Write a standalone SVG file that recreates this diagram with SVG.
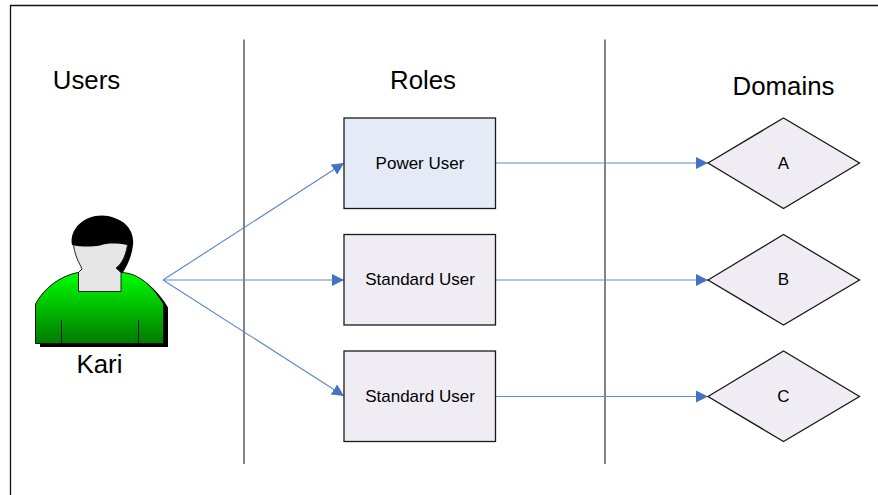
<svg xmlns="http://www.w3.org/2000/svg" width="878" height="495" viewBox="0 0 878 495">
<style>
text{font-family:"Liberation Sans",Arial,sans-serif;fill:#000;text-anchor:middle}
.h{font-size:25.8px}.s{font-size:17px}
.box{stroke:#1a1a1a;stroke-width:1.3}
.c{stroke:#5f8bc8;stroke-width:1.2;fill:none;marker-end:url(#a)}
.d{stroke:#333;stroke-width:1.2}
</style>
<defs>
<marker id="a" markerUnits="userSpaceOnUse" markerWidth="13" markerHeight="12" refX="12" refY="6" orient="auto"><path d="M0 0L12 6L0 12Z" fill="#4472c4"/></marker>
<linearGradient id="g" x1="0" y1="0" x2="0" y2="1"><stop offset="0" stop-color="#00ff00"/><stop offset="1" stop-color="#007a00"/></linearGradient>
<path id="body" d="M35.500 343.500V304C44 288 60 276 78 272.500H121C140 273 154 288 163.500 304V343.500Z"/>
</defs>
<rect width="878" height="495" fill="#fff"/>
<path d="M10.500 495V5.500H878" fill="none" stroke="#111" stroke-width="1.300"/>
<g id="dividers"><path class="d" d="M244 39.500V464M605 39.500V464" fill="none"/></g>
<g id="heading-users"><text class="h" x="86.500" y="89">Users</text></g>
<g id="heading-roles"><text class="h" x="423" y="89">Roles</text></g>
<g id="heading-domains"><text class="h" x="783.500" y="95">Domains</text></g>
<g id="connectors">
<path class="c" d="M163 280L344 163"/>
<path class="c" d="M163 280H344"/>
<path class="c" d="M163 280L344 396"/>
<path class="c" d="M496 163H708"/>
<path class="c" d="M496 280H708"/>
<path class="c" d="M496 396.500H708"/>
</g>
<g id="user-kari">
<use href="#body" transform="translate(4.500 3.500)" fill="#000"/>
<path d="M100 218C120 214 135 228 133 245C132 256 127 266 122 274H100Z" fill="#000"/>
<use href="#body" fill="url(#g)" stroke="#111" stroke-width="1"/>
<path d="M61.500 320V343.500M138.500 320V343.500" stroke="#111" stroke-width="1" fill="none"/>
<path d="M73 240C74 256 80 264 82 269L78.500 272.500V291.500H121V272.500L116 268C122 264 127 254 128 240Z" fill="#e6e6e6" stroke="#222" stroke-width="1"/>
<path d="M72 245C69 229 84 215.500 102 215.500C119 215.500 132 228 127.500 245C115 243 108 243 100 245.500C90 247 82 247 72 245Z" fill="#000"/>
<text class="h" x="99.500" y="373">Kari</text>
</g>
<g id="role-power"><rect class="box" x="344" y="118" width="151.500" height="90.500" fill="#e4ebf6"/><text class="s" x="420" y="168.500">Power User</text></g>
<g id="role-standard-1"><rect class="box" x="344" y="234.500" width="151.500" height="90.500" fill="#efedf3"/><text class="s" x="420" y="285">Standard User</text></g>
<g id="role-standard-2"><rect class="box" x="344" y="351" width="151.500" height="90.500" fill="#efedf3"/><text class="s" x="420" y="401.500">Standard User</text></g>
<g id="domain-a"><path class="box" d="M708 163L783.500 118L859.500 163L783.500 208.500Z" fill="#efedf3"/><text class="s" x="783.500" y="168.500">A</text></g>
<g id="domain-b"><path class="box" d="M708 280L783.500 234.500L859.500 280L783.500 325Z" fill="#efedf3"/><text class="s" x="783.500" y="285">B</text></g>
<g id="domain-c"><path class="box" d="M708 396.500L783.500 351L859.500 396.500L783.500 441.500Z" fill="#efedf3"/><text class="s" x="783.500" y="401.500">C</text></g>
</svg>
